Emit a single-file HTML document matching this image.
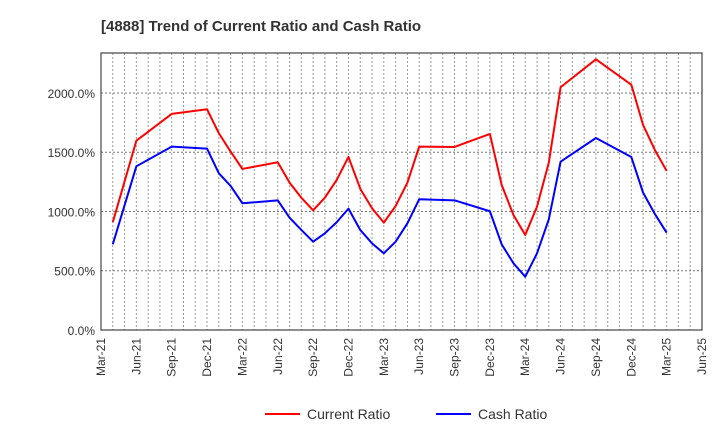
<!DOCTYPE html>
<html><head><meta charset="utf-8"><style>
body{margin:0;background:#fff;font-family:"Liberation Sans",sans-serif}
</style></head><body>
<svg id="chart" width="720" height="440" xmlns="http://www.w3.org/2000/svg" font-family="Liberation Sans, sans-serif">
<text x="101" y="31" font-size="15" font-weight="bold" fill="#333">[4888]  Trend of Current Ratio and Cash Ratio</text>
<g id="grid"></g><g id="axes"></g><g id="series"></g>
<g>
<line x1="265" y1="414" x2="300" y2="414" stroke="#ff0000" stroke-width="2"/>
<text x="307" y="419" font-size="14" fill="#333">Current Ratio</text>
<line x1="436" y1="414" x2="471" y2="414" stroke="#0000ff" stroke-width="2"/>
<text x="478" y="419" font-size="14" fill="#333">Cash Ratio</text>
</g>
</svg>
<script>
const months=[1,3,6,9,10,12,15,16,17,18,19,20,21,22,23,24,25,26,27,30,33,34,35,36,37,38,39,42,45,46,47,48];
const currentRatio=[909,1597,1823,1862,1660,1505,1359,1415,1243,1116,1010,1116,1266,1460,1192,1027,906,1046,1243,1547,1544,1654,1224,970,802,1041,1412,2048,2284,2070,1730,1519,1342];
const cashRatio=[723,1381,1547,1530,1322,1215,1069,1094,948,844,745,816,909,1024,844,731,647,745,900,1103,1094,1002,723,563,450,647,934,1420,1620,1460,1159,979,821];
const pointMonths=[1,3,6,9,10,11,12,15,16,17,18,19,20,21,22,23,24,25,26,27,30,33,34,35,36,37,38,39,42,45,46,47,48];
const yTicks=[0,500,1000,1500,2000];
const xLabels=["Mar-21","Jun-21","Sep-21","Dec-21","Mar-22","Jun-22","Sep-22","Dec-22","Mar-23","Jun-23","Sep-23","Dec-23","Mar-24","Jun-24","Sep-24","Dec-24","Mar-25","Jun-25"];
const L=101,R=702,T=53,B=330,NM=51,YMAX=2337;
const xs=m=>L+(R-L)*m/NM, ys=v=>B-(B-T)*v/YMAX;
const NS="http://www.w3.org/2000/svg";
function mk(tag,attrs,parent){const e=document.createElementNS(NS,tag);for(const k in attrs)e.setAttribute(k,attrs[k]);document.getElementById(parent).appendChild(e);return e;}
for(let m=1;m<NM;m++){const g=mk('line',{x1:xs(m),x2:xs(m),y1:T,y2:B,stroke:'#999','stroke-dasharray':'2,2','stroke-width':1},'grid');

}
yTicks.forEach(v=>{if(v>0){const g=mk('line',{x1:L,x2:R,y1:ys(v),y2:ys(v),stroke:'#777','stroke-dasharray':'2,2','stroke-width':1},'grid');

}
const t=mk('text',{x:L-6,y:ys(v)+5,'text-anchor':'end','font-size':12,fill:'#333'},'axes');t.textContent=v.toFixed(1)+'%';

});
xLabels.forEach((s,i)=>{const x=xs(i*3);const t=mk('text',{transform:`translate(${x+4},${B+8}) rotate(-90)`,'text-anchor':'end','font-size':12,fill:'#333'},'axes');t.textContent=s;

});
const box=mk('rect',{x:L,y:T,width:R-L,height:B-T,fill:'none',stroke:'#444','stroke-width':1.2},'axes');


function line(vals,col,name){const pts=vals.map((v,i)=>xs(pointMonths[i])+','+ys(v)).join(' ');
const p=mk('polyline',{points:pts,fill:'none',stroke:col,'stroke-width':2,'stroke-linejoin':'round'},'series');

}
line(currentRatio,'#ff0000','current-ratio-line');
line(cashRatio,'#0000ff','cash-ratio-line');
</script>
</body></html>
